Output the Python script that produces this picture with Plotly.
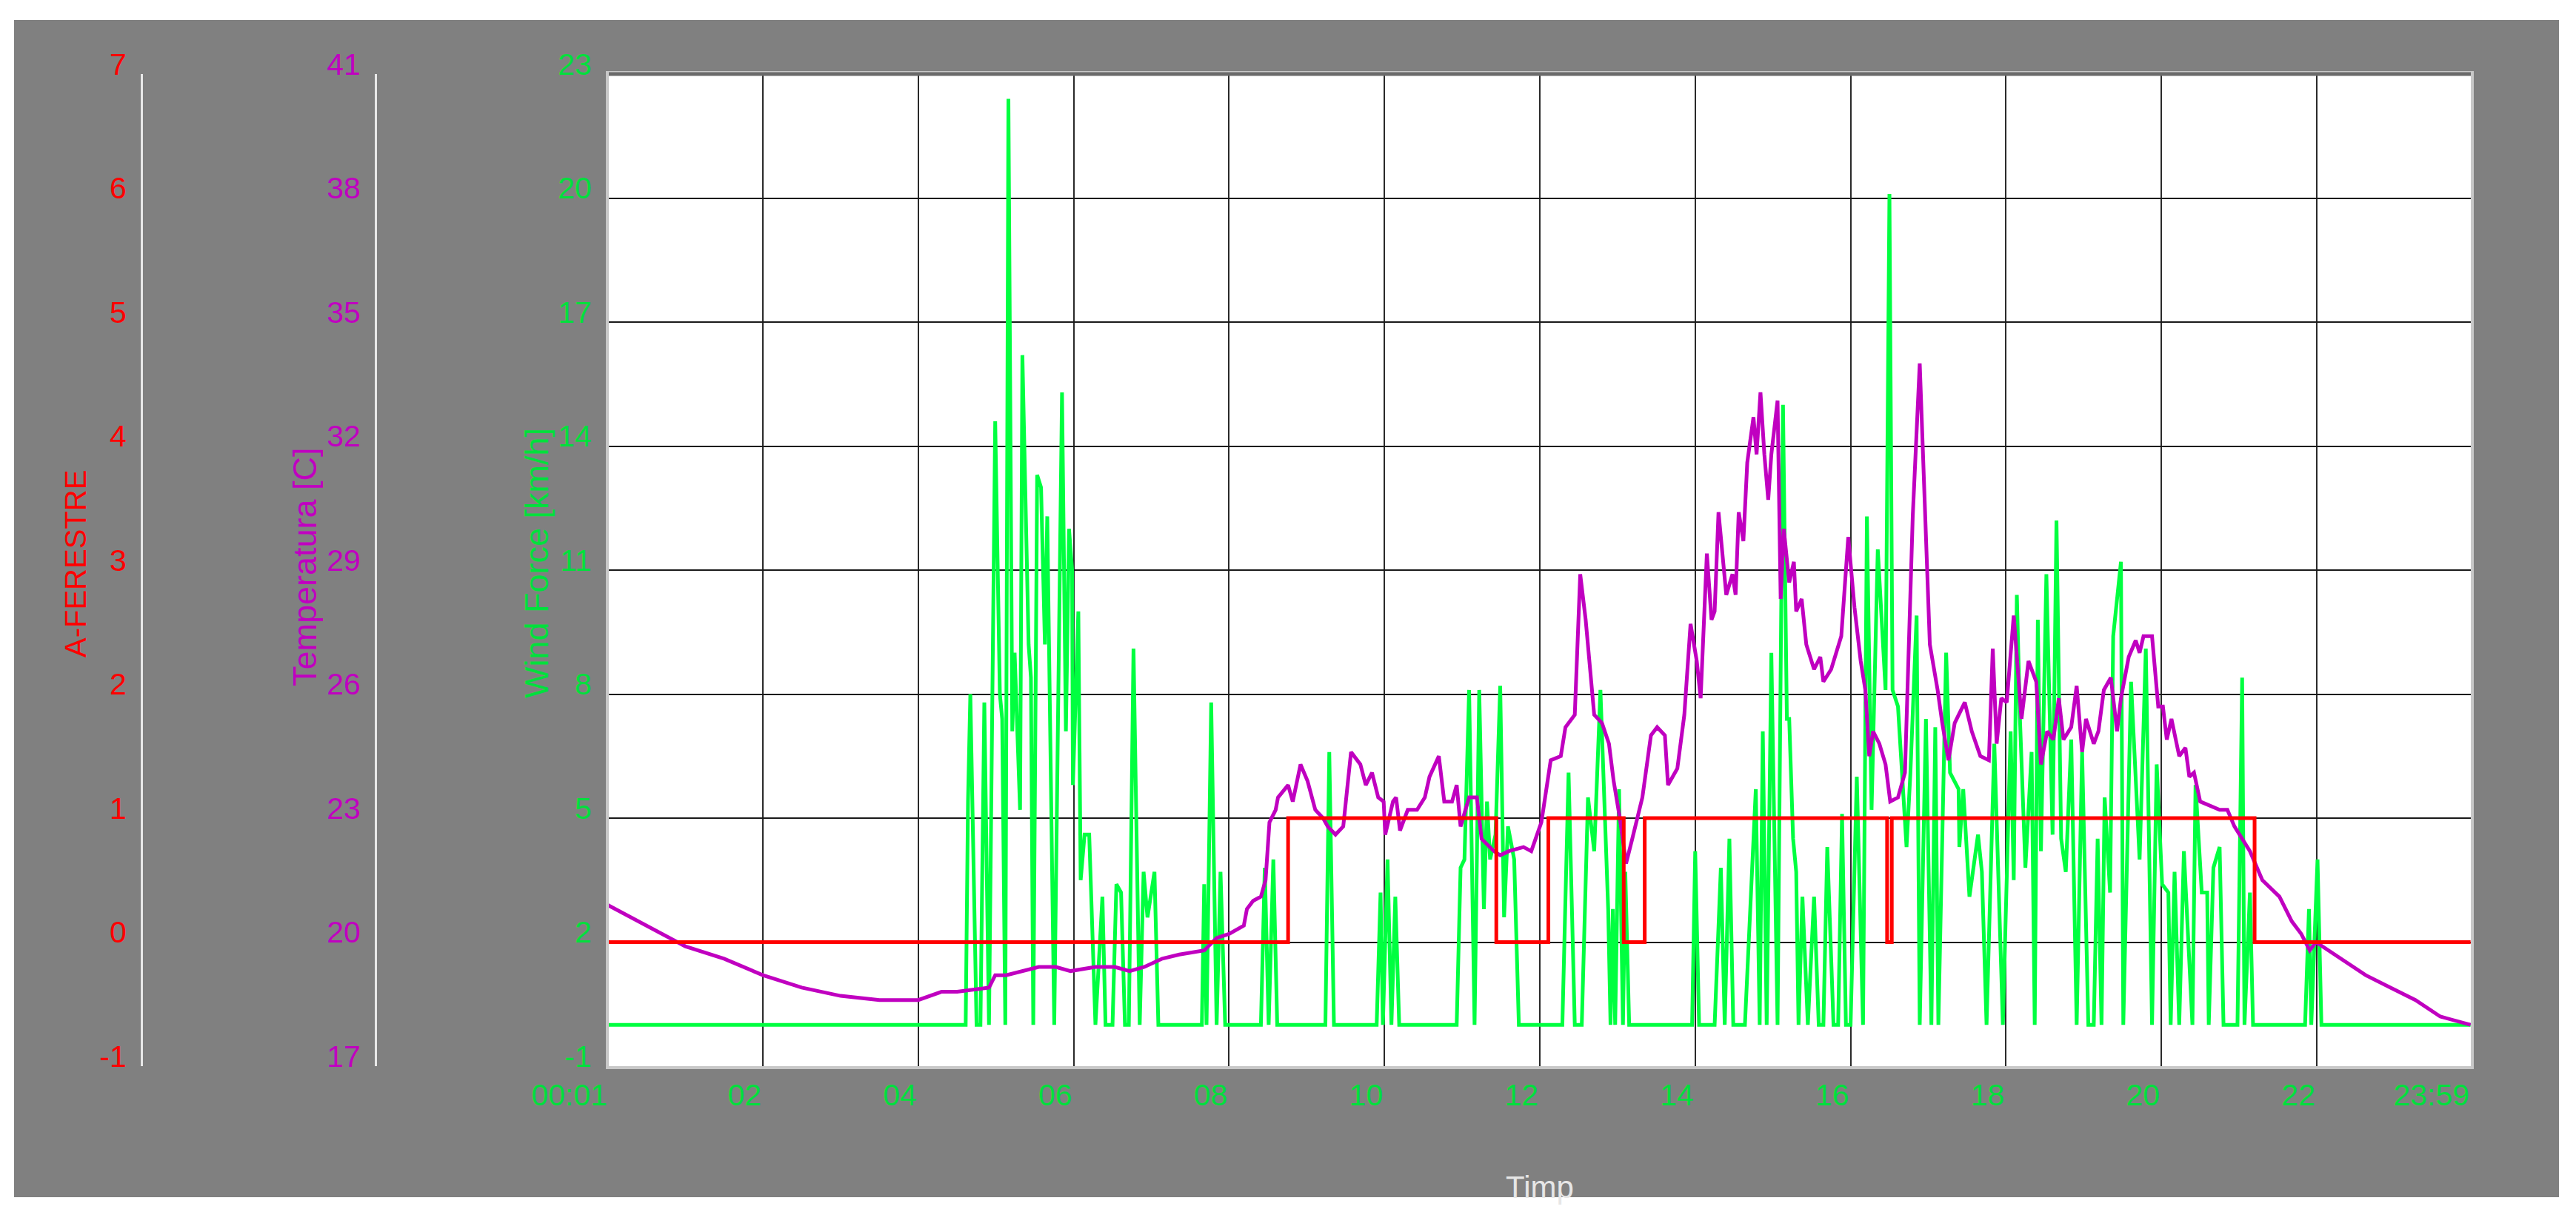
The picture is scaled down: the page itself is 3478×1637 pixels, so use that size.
import plotly.graph_objects as go

# ---------------- data (hours of day) ----------------
wind_hours = [0.00, 4.61, 4.64, 4.67, 4.75, 4.80, 4.85, 4.91, 4.99, 5.05, 5.08, 5.12, 5.16, 5.21, 5.24, 5.28,
              5.31, 5.34, 5.42, 5.45, 5.48, 5.53, 5.58, 5.63, 5.66, 5.75, 5.85, 5.90, 5.94, 5.98, 5.99, 6.06,
              6.09, 6.14, 6.20, 6.28, 6.37, 6.41, 6.50, 6.55, 6.61, 6.66, 6.71, 6.77, 6.85, 6.90, 6.95, 7.04,
              7.09, 7.65, 7.68, 7.71, 7.77, 7.84, 7.89, 7.95, 8.41, 8.46, 8.51, 8.57, 8.62, 9.24, 9.29, 9.35,
              9.41, 9.90, 9.95, 9.98, 10.04, 10.09, 10.14, 10.19, 10.93, 10.98, 11.03, 11.09, 11.16, 11.22,
              11.28, 11.32, 11.36, 11.43, 11.49, 11.54, 11.59, 11.67, 11.73, 12.29, 12.37, 12.45, 12.54, 12.62,
              12.70, 12.78, 12.88, 12.91, 12.94, 12.97, 13.02, 13.07, 13.10, 13.15, 13.96, 14.00, 14.05, 14.25,
              14.33, 14.38, 14.44, 14.49, 14.64, 14.78, 14.83, 14.87, 14.92, 14.98, 15.06, 15.10, 15.13, 15.18,
              15.21, 15.26, 15.30, 15.33, 15.38, 15.45, 15.53, 15.59, 15.65, 15.70, 15.78, 15.84, 15.89, 15.94,
              16.00, 16.08, 16.16, 16.21, 16.27, 16.35, 16.45, 16.50, 16.54, 16.61, 16.67, 16.72, 16.77, 16.85,
              16.89, 16.97, 17.04, 17.09, 17.13, 17.23, 17.28, 17.39, 17.40, 17.45, 17.53, 17.64, 17.69, 17.75,
              17.85, 17.96, 18.06, 18.10, 18.14, 18.18, 18.25, 18.33, 18.37, 18.41, 18.45, 18.52, 18.60, 18.65,
              18.71, 18.77, 18.84, 18.91, 18.98, 19.06, 19.13, 19.18, 19.23, 19.27, 19.34, 19.38, 19.48, 19.51,
              19.61, 19.72, 19.80, 19.88, 19.94, 20.01, 20.09, 20.12, 20.17, 20.23, 20.29, 20.40, 20.44, 20.52,
              20.59, 20.61, 20.67, 20.75, 20.80, 20.98, 21.04, 21.07, 21.14, 21.18, 21.85, 21.90, 21.93, 22.01,
              22.06, 23.98]
wind_kmh = [0, 0, 5.4, 8.0, 0, 0, 7.8, 0, 14.6, 8.0, 7.4, 0, 22.4, 7.1, 9.0, 7.1,
            5.2, 16.2, 9.2, 8.4, 0, 13.3, 13.0, 9.2, 12.3, 0, 15.3, 7.1, 12.0, 11.0, 5.8, 10.0,
            3.5, 4.6, 4.6, 0, 3.1, 0, 0, 3.4, 3.2, 0, 0, 9.1, 0, 3.7, 2.6, 3.7,
            0, 0, 3.4, 0, 7.8, 0, 3.7, 0, 0, 3.8, 0, 4.0, 0, 0, 6.6, 0,
            0, 0, 3.2, 0, 4.0, 0, 3.1, 0, 0, 3.8, 4.0, 8.1, 0, 8.1,
            2.8, 5.4, 4.0, 4.6, 8.2, 2.6, 4.8, 4.0, 0, 0, 6.1, 0, 0, 5.5,
            4.2, 8.1, 2.8, 0, 2.8, 0, 5.7, 0, 3.7, 0, 0, 4.2, 0, 0,
            3.8, 0, 4.5, 0, 0, 5.7, 0, 7.1, 0, 9.0, 0, 10.1, 15.0, 7.4,
            7.4, 4.5, 3.7, 0, 3.1, 0, 3.1, 0, 0, 4.3, 0, 0, 5.1, 0,
            0, 6.0, 0, 12.3, 5.2, 11.5, 8.1, 20.1, 8.1, 7.7, 5.7, 4.3, 6.1, 9.9,
            0, 7.4, 0, 7.2, 0, 9.0, 6.1, 5.7, 4.3, 5.7, 3.1, 4.6, 3.7, 0,
            6.8, 0, 7.1, 3.5, 10.4, 7.4, 3.8, 6.6, 0, 9.8, 4.2, 10.9, 4.6, 12.2,
            4.5, 3.7, 6.9, 0, 6.6, 0, 0, 4.5, 0, 5.5, 3.2, 9.4, 11.2, 0,
            8.3, 4.0, 9.1, 0, 6.3, 3.4, 3.2, 0, 3.7, 0, 4.2, 0, 5.8, 3.2,
            3.2, 0, 3.8, 4.3, 0, 0, 8.4, 0, 3.2, 0, 0, 2.8, 0, 4.0,
            0, 0]

temp_hours = [0.00, 0.50, 1.00, 1.50, 2.00, 2.50, 3.00, 3.50, 4.00, 4.30, 4.50, 4.91, 4.99, 5.13, 5.55, 5.77,
              5.96, 6.28, 6.53, 6.72, 6.91, 7.14, 7.36, 7.68, 7.84, 8.00, 8.19, 8.23, 8.31, 8.41, 8.47, 8.52,
              8.60, 8.63, 8.76, 8.82, 8.92, 9.01, 9.11, 9.21, 9.27, 9.37, 9.47, 9.57, 9.69, 9.76, 9.84, 9.92,
              9.99, 10.01, 10.11, 10.15, 10.20, 10.30, 10.42, 10.52, 10.58, 10.70, 10.77, 10.87, 10.93, 10.98,
              11.09, 11.19, 11.25, 11.41, 11.49, 11.60, 11.79, 11.89, 12.02, 12.14, 12.27, 12.33, 12.45, 12.52,
              12.59, 12.70, 12.80, 12.89, 12.95, 13.03, 13.11, 13.19, 13.32, 13.43, 13.51, 13.61, 13.65, 13.77,
              13.86, 13.94, 14.02, 14.07, 14.15, 14.21, 14.25, 14.30, 14.40, 14.48, 14.52, 14.56, 14.62, 14.67,
              14.75, 14.79, 14.84, 14.89, 14.94, 14.98, 15.06, 15.10, 15.14, 15.21, 15.27, 15.30, 15.37, 15.43,
              15.53, 15.61, 15.65, 15.75, 15.88, 15.97, 16.05, 16.13, 16.19, 16.24, 16.29, 16.37, 16.45, 16.51,
              16.61, 16.70, 16.80, 16.89, 16.96, 17.02, 17.12, 17.18, 17.26, 17.34, 17.47, 17.56, 17.67, 17.78,
              17.83, 17.88, 17.94, 18.01, 18.10, 18.20, 18.29, 18.39, 18.45, 18.53, 18.61, 18.68, 18.74, 18.84,
              18.91, 18.98, 19.03, 19.13, 19.19, 19.26, 19.35, 19.43, 19.48, 19.58, 19.67, 19.72, 19.77, 19.88,
              19.96, 20.02, 20.07, 20.13, 20.23, 20.31, 20.36, 20.42, 20.50, 20.63, 20.75, 20.85, 20.94, 21.14,
              21.30, 21.52, 21.68, 21.80, 21.91, 21.99, 22.31, 22.63, 22.95, 23.27, 23.59, 23.98]
temp_c = [20.9, 20.4, 19.9, 19.6, 19.2, 18.9, 18.7, 18.6, 18.6, 18.8, 18.8, 18.9, 19.2, 19.2, 19.4, 19.4,
          19.3, 19.4, 19.4, 19.3, 19.4, 19.6, 19.7, 19.8, 20.1, 20.2, 20.4, 20.8, 21.0, 21.1, 21.5, 22.9,
          23.2, 23.5, 23.8, 23.4, 24.3, 23.9, 23.2, 23.0, 22.8, 22.6, 22.8, 24.6, 24.3, 23.8, 24.1, 23.5,
          23.4, 22.6, 23.4, 23.5, 22.7, 23.2, 23.2, 23.5, 24.0, 24.5, 23.4, 23.4, 23.8, 22.8,
          23.5, 23.5, 22.5, 22.2, 22.1, 22.2, 22.3, 22.2, 22.9, 24.4, 24.5, 25.2, 25.5, 28.9,
          27.8, 25.5, 25.3, 24.8, 23.9, 23.0, 21.9, 22.5, 23.5, 25.0, 25.2, 25.0, 23.8, 24.2,
          25.5, 27.7, 26.8, 25.9, 29.4, 27.8, 28.0, 30.4, 28.4, 28.9, 28.4, 30.4, 29.7, 31.6,
          32.7, 31.8, 33.3, 31.8, 30.7, 31.8, 33.1, 28.3, 30.0, 28.7, 29.2, 28.0, 28.3, 27.2,
          26.6, 26.9, 26.3, 26.6, 27.4, 29.8, 28.1, 26.8, 26.1, 24.5, 25.1, 24.8, 24.3, 23.4,
          23.5, 24.1, 30.3, 34.0, 30.4, 27.2, 26.1, 25.3, 24.4, 25.3, 25.8, 25.1, 24.5, 24.4,
          27.1, 24.8, 25.9, 25.8, 27.9, 25.4, 26.8, 26.3, 24.3, 25.1, 24.9, 25.9, 24.9, 25.2,
          26.2, 24.6, 25.4, 24.8, 25.1, 26.1, 26.4, 25.1, 25.9, 26.9, 27.3, 27.0, 27.4, 27.4,
          25.7, 25.7, 24.9, 25.4, 24.5, 24.7, 24.0, 24.1, 23.4, 23.3, 23.2, 23.2, 22.8, 22.2,
          21.5, 21.1, 20.5, 20.2, 19.8, 20.0, 19.6, 19.2, 18.9, 18.6, 18.2, 18.0]

window_hours = [0.00, 8.76, 11.44, 12.11, 13.08, 13.35, 16.47, 16.53, 21.20, 23.98]
window_state = [0, 1, 0, 1, 0, 1, 0, 1, 0, 0]

x_tickvals = [1 / 60, 2, 4, 6, 8, 10, 12, 14, 16, 18, 20, 22, 23 + 59 / 60]
x_ticktext = ["00:01", "02", "04", "06", "08", "10", "12", "14", "16", "18", "20", "22", "23:59"]
wind_ticks = [-1, 2, 5, 8, 11, 14, 17, 20, 23]
temp_ticks = [17, 20, 23, 26, 29, 32, 35, 38, 41]
window_ticks = [-1, 0, 1, 2, 3, 4, 5, 6, 7]

# ---------------- styling ----------------
W, H = 3478, 1637
L, R, T, B = 150, 142, 100, 197
PW, PH = W - L - R, H - T - B
FONT = "Liberation Sans"
GREEN_LINE = "#00FF40"
GREEN_TXT = "#00E03C"
MAGENTA = "#C000C0"
RED = "#FF0000"
BG = "#808080"


def px(x):
    return (x - L) / PW


def py(y):
    return (H - B - y) / PH


def labels(vals):
    return [str(v) for v in vals]


fig = go.Figure()
fig.add_trace(go.Scatter(x=window_hours, y=window_state, yaxis="y3", mode="lines",
                         line=dict(color=RED, width=5, shape="hv"), name="A-FERESTRE"))
fig.add_trace(go.Scatter(x=temp_hours, y=temp_c, yaxis="y2", mode="lines",
                         line=dict(color=MAGENTA, width=5), name="Temperatura [C]"))
fig.add_trace(go.Scatter(x=wind_hours, y=wind_kmh, yaxis="y", mode="lines",
                         line=dict(color=GREEN_LINE, width=5), name="Wind Force [km/h]"))

tick_font = dict(family=FONT, size=41)
common_y = dict(ticks="", ticklabelposition="outside top", ticklabelstandoff=11,
                ticklabelshift=15, zeroline=False, automargin=False)

fig.update_layout(
    width=W, height=H,
    margin=dict(l=L, r=R, t=T, b=B, autoexpand=False),
    paper_bgcolor=BG, plot_bgcolor="white",
    showlegend=False,
    xaxis=dict(
        domain=[px(822), 1], range=[1 / 60, 23 + 59 / 60],
        tickvals=x_tickvals, ticktext=x_ticktext, ticks="",
        ticklabelposition="outside left",
        tickfont=dict(family=FONT, size=41, color=GREEN_TXT),
        showgrid=True, gridcolor="#2a2a2a", gridwidth=2,
        showline=True, linecolor="#c8c8c8", linewidth=4, mirror=True,
        zeroline=False, automargin=False,
        title=dict(text="Timp", font=dict(family=FONT, size=42, color="#e6e6e6"), standoff=88),
    ),
    yaxis=dict(
        common_y, range=[-1, 23], tickvals=wind_ticks, ticktext=labels(wind_ticks),
        tickfont=dict(tick_font, color=GREEN_TXT),
        showgrid=True, gridcolor="#1a1a1a", gridwidth=2,
        showline=True, linecolor="#c8c8c8", linewidth=4, mirror=True,
    ),
    yaxis2=dict(
        common_y, range=[17, 41], tickvals=temp_ticks, ticktext=labels(temp_ticks),
        overlaying="y", anchor="free", position=px(507), side="left",
        tickfont=dict(tick_font, color=MAGENTA),
        showgrid=False, showline=True, linecolor="#e8e8e8", linewidth=3,
    ),
    yaxis3=dict(
        common_y, range=[-1, 7], tickvals=window_ticks, ticktext=labels(window_ticks),
        overlaying="y", anchor="free", position=px(191), side="left",
        tickfont=dict(tick_font, color=RED),
        showgrid=False, showline=True, linecolor="#e8e8e8", linewidth=3,
    ),
    annotations=[
        dict(text="A-FERESTRE", xref="paper", yref="paper", x=px(102), y=py(762),
             xanchor="center", yanchor="middle", textangle=-90, showarrow=False,
             font=dict(family=FONT, size=40, color=RED)),
        dict(text="Temperatura [C]", xref="paper", yref="paper", x=px(411), y=py(766),
             xanchor="center", yanchor="middle", textangle=-90, showarrow=False,
             font=dict(family=FONT, size=45, color=MAGENTA)),
        dict(text="Wind Force [km/h]", xref="paper", yref="paper", x=px(724), y=py(761),
             xanchor="center", yanchor="middle", textangle=-90, showarrow=False,
             font=dict(family=FONT, size=45, color=GREEN_TXT)),
    ],
    shapes=[
        # white page margins around the grey panel
        dict(type="rect", xref="paper", yref="paper", x0=px(-10), x1=px(19), y0=py(H + 10), y1=py(-10),
             fillcolor="white", line_width=0, layer="above"),
        dict(type="rect", xref="paper", yref="paper", x0=px(3455), x1=px(W + 10), y0=py(H + 10), y1=py(-10),
             fillcolor="white", line_width=0, layer="above"),
        dict(type="rect", xref="paper", yref="paper", x0=px(-10), x1=px(W + 10), y0=py(27), y1=py(-10),
             fillcolor="white", line_width=0, layer="above"),
        dict(type="rect", xref="paper", yref="paper", x0=px(-10), x1=px(W + 10), y0=py(H + 10), y1=py(1617),
             fillcolor="white", line_width=0, layer="above"),
        # darker top border of the plot area
        dict(type="line", xref="paper", yref="paper", x0=px(822), x1=1, y0=1, y1=1,
             line=dict(color="#6a6a6a", width=5), layer="above"),
    ],
)

fig.write_html("out.html", config={"displayModeBar": False},
               post_script="document.body.style.margin='0';document.body.style.overflow='hidden';")
